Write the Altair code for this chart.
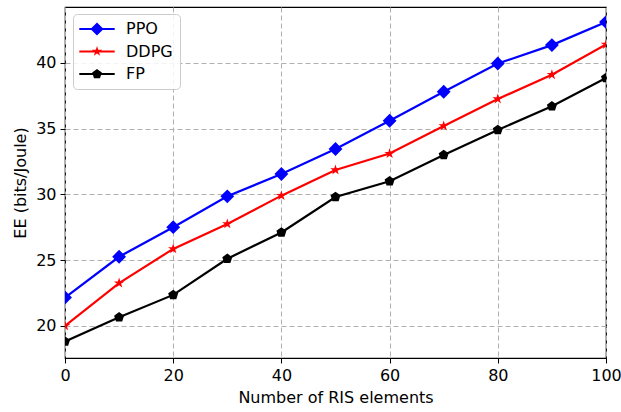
import altair as alt
import pandas as pd

x_vals = [0, 10, 20, 30, 40, 50, 60, 70, 80, 90, 100]
ppo = [22.15, 25.25, 27.5, 29.85, 31.55, 33.45, 35.6, 37.8, 39.95, 41.35, 43.1]
ddpg = [20.0, 23.25, 25.85, 27.75, 29.9, 31.85, 33.1, 35.2, 37.25, 39.1, 41.4]
fp = [18.8, 20.65, 22.35, 25.1, 27.1, 29.8, 31.0, 33.0, 34.9, 36.7, 38.85]

series_names = ["PPO", "DDPG", "FP"]
series_colors = ["#0000ff", "#ff0000", "#000000"]
marker_sizes = [145, 120, 110]

rows = []
for name, vals in zip(series_names, [ppo, ddpg, fp]):
    for xv, yv in zip(x_vals, vals):
        rows.append({"x": xv, "y": yv, "method": name})
df = pd.DataFrame(rows)

diamond = "M0,-1.15L1.15,0L0,1.15L-1.15,0Z"
star = ("M0,-1L0.2245,-0.309L0.9511,-0.309L0.3633,0.118L0.5878,0.809L0,0.382"
        "L-0.5878,0.809L-0.3633,0.118L-0.9511,-0.309L-0.2245,-0.309Z")
pent = "M0,-1L0.9511,-0.309L0.5878,0.809L-0.5878,0.809L-0.9511,-0.309Z"
shapes = [diamond, star, pent]

# legend glyphs: a thin filled bar (the line) plus the marker
bar = "M-2.95,-0.18L2.95,-0.18L2.95,0.18L-2.95,0.18Z"
legend_diamond = "M0,-1.1L1.1,0L0,1.1L-1.1,0Z"
legend_star = ("M0,-0.9L0.202,-0.278L0.856,-0.278L0.327,0.106L0.529,0.728L0,0.344"
               "L-0.529,0.728L-0.327,0.106L-0.856,-0.278L-0.202,-0.278Z")
legend_pent = "M0,-0.85L0.808,-0.263L0.5,0.688L-0.5,0.688L-0.808,-0.263Z"
legend_shapes = [bar + legend_diamond, bar + legend_star, bar + legend_pent]

xenc = alt.X("x:Q", title="Number of RIS elements",
             scale=alt.Scale(domain=[0, 100], nice=False, zero=False),
             axis=alt.Axis(values=[0, 20, 40, 60, 80, 100], labelFlush=False))
yenc = alt.Y("y:Q", title="EE (bits/Joule)",
             scale=alt.Scale(domain=[17.55, 44.25], nice=False, zero=False),
             axis=alt.Axis(values=[20, 25, 30, 35, 40], labelFlush=False))

layers = []
for name, col in zip(series_names, series_colors):
    base = alt.Chart(df).transform_filter(alt.datum.method == name)
    layers.append(base.mark_line(strokeWidth=2.2, clip=True, color=col).encode(x=xenc, y=yenc))
for name, col, shp, sz in zip(series_names, series_colors, shapes, marker_sizes):
    base = alt.Chart(df).transform_filter(alt.datum.method == name)
    layers.append(base.mark_point(filled=True, opacity=1, clip=True, shape=shp, size=sz, color=col)
                  .encode(x=xenc, y=yenc))

legend_props = dict(
    orient="none", legendX=8, legendY=7, title=None,
    symbolSize=144, symbolOffset=9, symbolOpacity=1, symbolStrokeWidth=0,
    labelOffset=21, labelFontSize=16, labelFont="DejaVu Sans",
    labelColor="black", rowPadding=6.5,
    padding=7, fillColor="rgba(255,255,255,0.85)",
    strokeColor="#cccccc", cornerRadius=4,
)

# legend-only layer: no rows survive the filter, the legend comes from the scales' domains
ghost = alt.Chart(df).transform_filter("datum.x < -1000").mark_point(
    filled=True, clip=True
).encode(
    x=xenc, y=yenc,
    color=alt.Color("method:N", scale=alt.Scale(domain=series_names, range=series_colors),
                    legend=alt.Legend(**legend_props)),
    shape=alt.Shape("method:N", scale=alt.Scale(domain=series_names, range=legend_shapes),
                    legend=alt.Legend(**legend_props)),
)
layers.append(ghost)

chart = alt.layer(*layers).properties(
    width=541, height=351,
    autosize=alt.AutoSizeParams(type="none"),
    padding={"left": 65, "top": 7, "right": 15, "bottom": 54},
).configure_view(
    stroke="black", strokeWidth=1.2
).configure_axis(
    labelFont="DejaVu Sans", titleFont="DejaVu Sans",
    labelFontSize=16, titleFontSize=16, titleFontWeight="normal",
    labelColor="black", titleColor="black",
    domain=False, tickColor="black", tickSize=5, tickWidth=1,
    grid=True, gridColor="#b0b0b0", gridDash=[5, 3], gridWidth=1,
    labelPadding=4,
).configure_axisX(
    titlePadding=6
).configure_axisY(
    titlePadding=7
)

chart.save("out.html", embed_options={"renderer": "svg", "actions": False})
